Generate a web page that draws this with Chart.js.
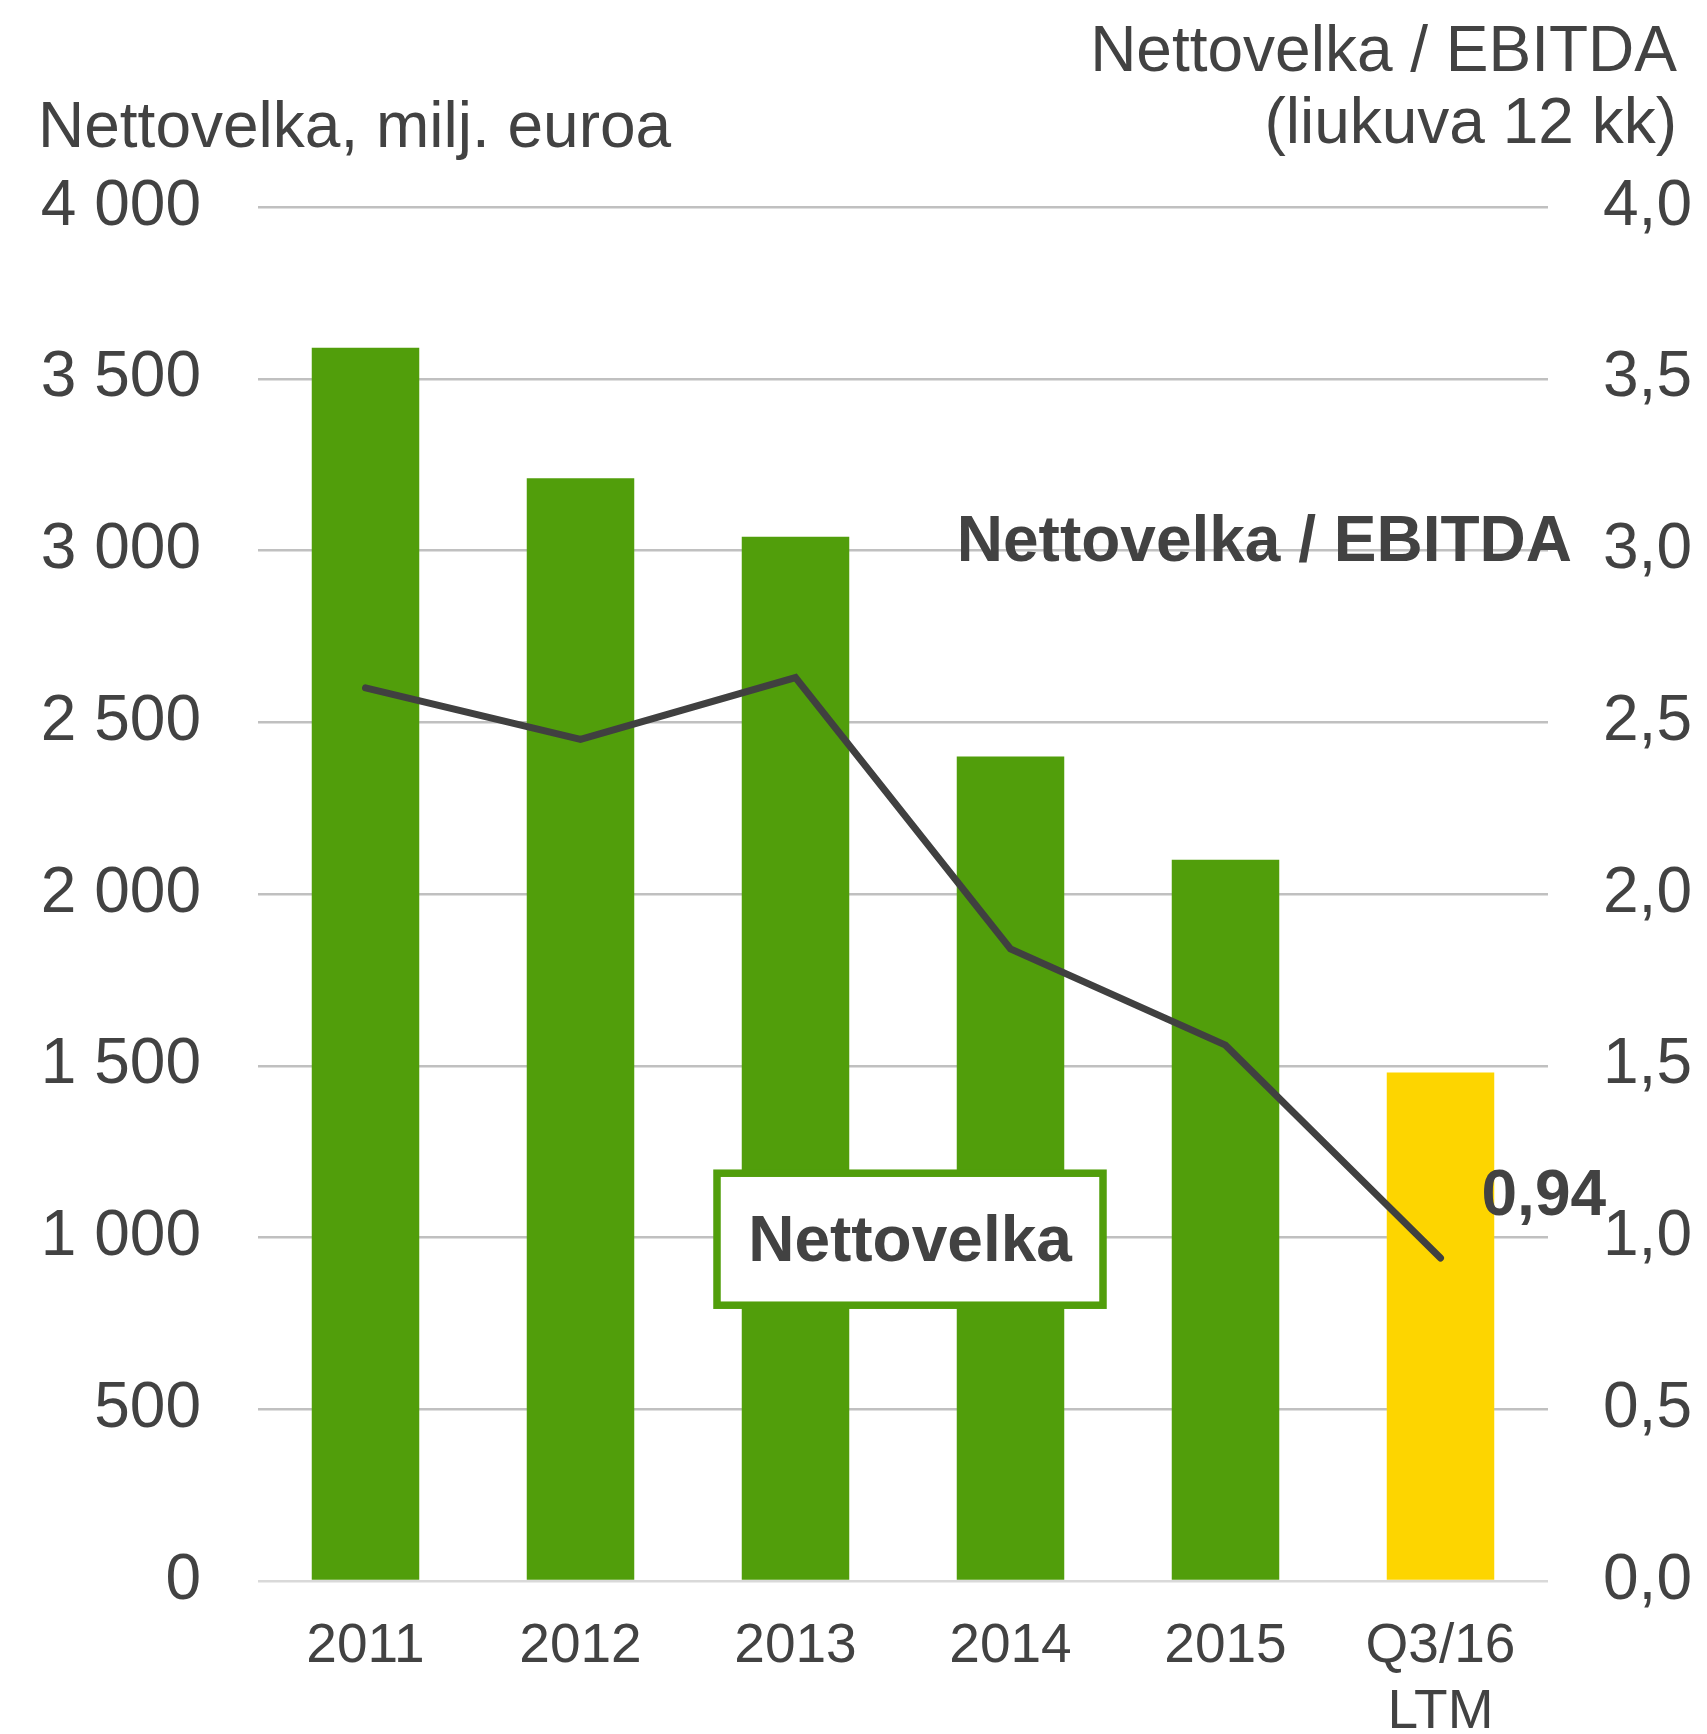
<!DOCTYPE html>
<html>
<head>
<meta charset="utf-8">
<script src="https://cdn.jsdelivr.net/npm/chart.js@4.4.0/dist/chart.umd.min.js"></script>
<style>
  html, body { margin: 0; padding: 0; background: #fff; }
</style>
</head>
<body>
<canvas id="chart" width="1707" height="1734"></canvas>
<script>
// data
var categories = [["2011"], ["2012"], ["2013"], ["2014"], ["2015"], ["Q3/16", "LTM"]];
var nettovelka = [3590, 3210, 3040, 2400, 2100, 1480];
var velkaEbitda = [2.60, 2.45, 2.63, 1.84, 1.56, 0.94];
var barColors = ["#519E0B", "#519E0B", "#519E0B", "#519E0B", "#519E0B", "#FDD500"];
var leftTicks = [0, 500, 1000, 1500, 2000, 2500, 3000, 3500, 4000];
var rightTicks = [0, 0.5, 1, 1.5, 2, 2.5, 3, 3.5, 4];

var textColor = "#424242";
var fontFamily = "'Liberation Sans', Arial, sans-serif";

function fmtThousands(v) {
    return String(v).replace(/\B(?=(\d{3})+(?!\d))/g, " ");
}
function fmtComma(v) {
    return v.toFixed(1).replace(".", ",");
}
function fmtTwo(v) {
    return v.toFixed(2).replace(".", ",");
}

var textPlugin = {
    id: "texts",
    afterDatasetsDraw: function(chart) {
        var ctx = chart.ctx;
        var x = chart.scales.x;
        var y = chart.scales.y;
        var y1 = chart.scales.y1;
        ctx.save();

        // "Nettovelka" box over the bars
        var bx = x.getPixelForValue(2.5) + 7;
        var by = y.getPixelForValue(995);
        var bw = 386, bh = 132;
        ctx.fillStyle = "#ffffff";
        ctx.fillRect(bx - bw / 2, by - bh / 2, bw, bh);
        ctx.strokeStyle = "#519E0B";
        ctx.lineWidth = 7.5;
        ctx.strokeRect(bx - bw / 2, by - bh / 2, bw, bh);
        ctx.fillStyle = textColor;
        ctx.font = "bold 64px " + fontFamily;
        ctx.textAlign = "center";
        ctx.textBaseline = "alphabetic";
        ctx.fillText("Nettovelka", bx, by + 22);

        // line label
        ctx.textAlign = "right";
        ctx.fillText("Nettovelka / EBITDA", chart.chartArea.right + 24, y1.getPixelForValue(2.97));

        // last value label
        var last = velkaEbitda.length - 1;
        ctx.textAlign = "left";
        ctx.fillText(fmtTwo(velkaEbitda[last]), x.getPixelForValue(last) + 41, y1.getPixelForValue(velkaEbitda[last]) - 43);

        ctx.restore();
    },
    afterDraw: function(chart) {
        var ctx = chart.ctx;
        ctx.save();
        ctx.fillStyle = textColor;
        ctx.font = "64px " + fontFamily;
        ctx.textBaseline = "alphabetic";
        ctx.textAlign = "left";
        ctx.fillText("Nettovelka, milj. euroa", 38, 147);
        ctx.textAlign = "right";
        ctx.fillText("Nettovelka / EBITDA", 1677, 71);
        ctx.fillText("(liukuva 12 kk)", 1677, 143);
        ctx.restore();
    }
};

var ctx = document.getElementById("chart");

var chart = new Chart(ctx, {
    type: "bar",
    data: {
        labels: categories,
        datasets: [
            {
                type: "line",
                label: "Nettovelka / EBITDA",
                data: velkaEbitda,
                yAxisID: "y1",
                borderColor: "#404040",
                borderWidth: 7,
                borderCapStyle: "round",
                borderJoinStyle: "miter",
                pointRadius: 0,
                tension: 0,
                order: 0
            },
            {
                type: "bar",
                label: "Nettovelka",
                data: nettovelka,
                yAxisID: "y",
                backgroundColor: barColors,
                borderWidth: 0,
                barPercentage: 0.5,
                categoryPercentage: 1.0,
                order: 1
            }
        ]
    },
    options: {
        responsive: false,
        animation: false,
        layout: {
            padding: { top: 207, left: 0, right: 0, bottom: 0 }
        },
        plugins: {
            legend: { display: false },
            tooltip: { enabled: false }
        },
        scales: {
            x: {
                grid: { display: false, drawTicks: false },
                border: { display: false },
                ticks: {
                    color: textColor,
                    font: { family: fontFamily, size: 55 },
                    padding: 33,
                    maxRotation: 0
                },
                afterFit: function(scale) { scale.height = 153; }
            },
            y: {
                position: "left",
                min: 0,
                max: 4000,
                afterBuildTicks: function(scale) {
                    scale.ticks = leftTicks.map(function(v) { return { value: v }; });
                },
                grid: {
                    drawTicks: false,
                    lineWidth: 2.5,
                    color: function(c) { return c.index === 0 ? "#D9D9D9" : "#C0C0C0"; }
                },
                border: { display: false },
                ticks: {
                    color: textColor,
                    font: { family: fontFamily, size: 64 },
                    padding: 57,
                    callback: function(v) { return fmtThousands(v); }
                },
                afterFit: function(scale) { scale.width = 258; }
            },
            y1: {
                position: "right",
                min: 0,
                max: 4,
                afterBuildTicks: function(scale) {
                    scale.ticks = rightTicks.map(function(v) { return { value: v }; });
                },
                grid: { display: false, drawTicks: false },
                border: { display: false },
                ticks: {
                    color: textColor,
                    font: { family: fontFamily, size: 64 },
                    padding: 55,
                    callback: function(v) { return fmtComma(v); }
                },
                afterFit: function(scale) { scale.width = 159; }
            }
        }
    },
    plugins: [textPlugin]
});
</script>
</body>
</html>
